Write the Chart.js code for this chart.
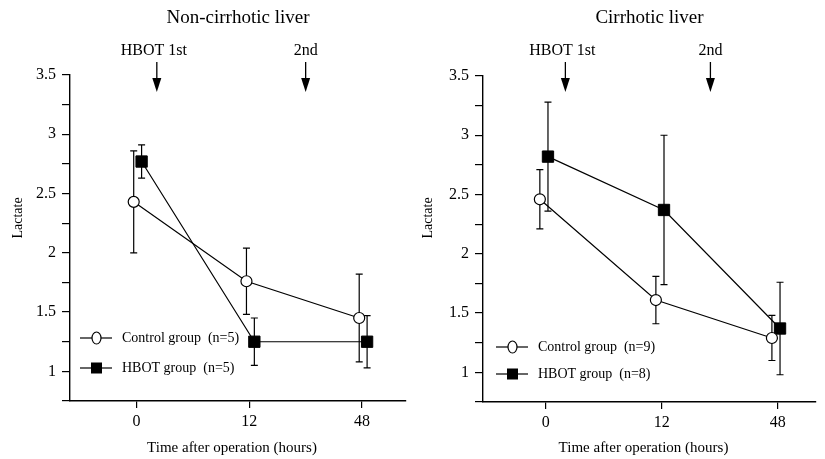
<!DOCTYPE html>
<html>
<head>
<meta charset="utf-8">
<script src="https://cdn.jsdelivr.net/npm/chart.js@4.4.1/dist/chart.umd.min.js"></script>
<style>
  html, body { margin:0; padding:0; background:#fff; }
  #wrap { position:relative; width:825px; height:459px; }
  .panel { position:absolute; top:0; height:459px; }
</style>
</head>
<body>
<div id="wrap">
  <div class="panel" style="left:0;width:415px"><canvas id="c1"></canvas></div>
  <div class="panel" style="left:413px;width:412px"><canvas id="c2"></canvas></div>
</div>
<script>
// ---- data ----
const timeLabels = ['0', '12', '48'];          // hours after operation
const hbotNames  = ['HBOT 1st', '2nd'];
const nonCirHbotTimes = [0.18, 1.5];           // arrow positions (category units)
const cirHbotTimes    = [0.17, 1.42];

const nonCirControl    = [2.43, 1.76, 1.45];
const nonCirControlErr = [0.43, 0.28, 0.37];
const nonCirHbot       = [2.77, 1.25, 1.25];
const nonCirHbotErr    = [0.14, 0.20, 0.22];

const cirControl    = [2.46, 1.61, 1.29];
const cirControlErr = [0.25, 0.20, 0.19];
const cirHbot       = [2.82, 2.37, 1.37];
const cirHbotErr    = [0.46, 0.63, 0.39];

const SERIF = "'Liberation Serif', 'DejaVu Serif', serif";
Chart.defaults.font.family = SERIF;
Chart.defaults.color = '#000';

const pts = (vals, off) => vals.map((v, i) => ({ x: i + off, y: v }));

// ---- error bars, annotations, legend ----
const panelPlugin = {
  id: 'panel',
  beforeDatasetsDraw(chart, args, o) {
    const { ctx, scales: { x, y } } = chart;
    ctx.save();
    ctx.strokeStyle = '#000';
    ctx.lineWidth = 1.2;
    chart.data.datasets.forEach((ds, di) => {
      const errs = o.errors[di];
      ds.data.forEach((p, i) => {
        const px = x.getPixelForValue(p.x);
        const t = y.getPixelForValue(p.y + errs[i]);
        const b = y.getPixelForValue(p.y - errs[i]);
        ctx.beginPath();
        ctx.moveTo(px, t); ctx.lineTo(px, b);
        ctx.moveTo(px - 3.5, t); ctx.lineTo(px + 3.5, t);
        ctx.moveTo(px - 3.5, b); ctx.lineTo(px + 3.5, b);
        ctx.stroke();
      });
    });
    ctx.restore();
  },
  afterDraw(chart, args, o) {
    const { ctx, chartArea: ca, scales: { x } } = chart;
    const cx = (ca.left + ca.right) / 2;
    ctx.save();
    ctx.fillStyle = '#000';
    ctx.strokeStyle = '#000';
    ctx.textAlign = 'center';
    ctx.textBaseline = 'middle';

    ctx.font = '19px ' + SERIF;
    ctx.fillText(o.title, cx, 18);

    // HBOT arrows
    o.arrows.forEach((t, i) => {
      const ax = x.getPixelForValue(t);
      ctx.font = '16px ' + SERIF;
      ctx.fillText(hbotNames[i], ax - (i === 0 ? 3 : 0), 51);
      ctx.lineWidth = 1.3;
      ctx.beginPath(); ctx.moveTo(ax, 62); ctx.lineTo(ax, 80); ctx.stroke();
      ctx.beginPath();
      ctx.moveTo(ax - 4.5, 78); ctx.lineTo(ax + 4.5, 78); ctx.lineTo(ax, 92);
      ctx.closePath(); ctx.fill();
    });

    // axis titles
    ctx.font = '15px ' + SERIF;
    ctx.fillText('Time after operation (hours)', cx - 6, 448);
    ctx.save();
    ctx.translate(o.yTitleX, 218);
    ctx.rotate(-Math.PI / 2);
    ctx.font = '14px ' + SERIF;
    ctx.fillText('Lactate', 0, 0);
    ctx.restore();

    // legend
    ctx.font = '14px ' + SERIF;
    ctx.textAlign = 'left';
    chart.data.datasets.forEach((ds, di) => {
      const ly = o.legendY[di];
      const lx = ca.left + o.legendX;
      ctx.lineWidth = 1.2;
      ctx.beginPath(); ctx.moveTo(lx, ly); ctx.lineTo(lx + 32, ly); ctx.stroke();
      if (ds.pointStyle === 'rect') {
        ctx.fillRect(lx + 11, ly - 5.5, 11, 11);
      } else {
        ctx.beginPath();
        ctx.ellipse(lx + 16.5, ly, 4.5, 6, 0, 0, Math.PI * 2);
        ctx.fillStyle = '#fff'; ctx.fill(); ctx.stroke();
        ctx.fillStyle = '#000';
      }
      ctx.fillText(ds.label, lx + 42, ly);
    });
    ctx.restore();
  }
};

function makePanel(id, cfg) {
  return new Chart(document.getElementById(id), {
    type: 'line',
    data: {
      datasets: [{
        label: cfg.controlLabel,
        data: pts(cfg.control, cfg.controlOff),
        borderColor: '#000', borderWidth: 1.2,
        pointStyle: 'circle', pointRadius: 5.5,
        pointBackgroundColor: '#fff', pointBorderColor: '#000', pointBorderWidth: 1.2
      }, {
        label: cfg.hbotLabel,
        data: pts(cfg.hbot, cfg.hbotOff),
        borderColor: '#000', borderWidth: 1.2,
        pointStyle: 'rect', pointRadius: 8,
        pointBackgroundColor: '#000', pointBorderColor: '#000', pointBorderWidth: 1
      }]
    },
    options: {
      responsive: true,
      maintainAspectRatio: false,
      animation: false,
      layout: { padding: { top: cfg.top, right: cfg.right, left: 0, bottom: 0 } },
      plugins: {
        legend: { display: false },
        tooltip: { enabled: false },
        panel: {
          title: cfg.title,
          arrows: cfg.arrows,
          errors: [cfg.controlErr, cfg.hbotErr],
          legendX: cfg.legendX, legendY: cfg.legendY,
          yTitleX: cfg.yTitleX
        }
      },
      scales: {
        x: {
          type: 'linear',
          min: cfg.xMin, max: cfg.xMax,
          afterBuildTicks: s => { s.ticks = timeLabels.map((_, i) => ({ value: i })); },
          afterFit: s => { s.height = cfg.xHeight; },
          ticks: { callback: v => timeLabels[v], font: { size: 16 }, padding: 4, maxRotation: 0 },
          grid: { drawOnChartArea: false, color: '#000', tickLength: 7, lineWidth: 1.2 },
          border: { color: '#000', width: 1.4 }
        },
        y: {
          min: 0.75, max: 3.5,
          afterFit: s => { s.width = 70; },
          ticks: {
            stepSize: 0.25,
            font: { size: 16 },
            padding: 6,
            callback: v => (Math.abs(v * 2 - Math.round(v * 2)) < 1e-6 && v >= 1) ? String(v) : ''
          },
          grid: { drawOnChartArea: false, color: '#000', tickLength: 8, lineWidth: 1.2 },
          border: { color: '#000', width: 1.4 }
        }
      }
    },
    plugins: [panelPlugin]
  });
}

makePanel('c1', {
  title: 'Non-cirrhotic liver', arrows: nonCirHbotTimes,
  control: nonCirControl, controlErr: nonCirControlErr, controlOff: -0.025,
  hbot: nonCirHbot, hbotErr: nonCirHbotErr, hbotOff: 0.045,
  controlLabel: 'Control group  (n=5)', hbotLabel: 'HBOT group  (n=5)',
  xMin: -0.59, xMax: 2.39, top: 75, right: 7, xHeight: 58,
  legendX: 10, legendY: [338, 368], yTitleX: 18
});

makePanel('c2', {
  title: 'Cirrhotic liver', arrows: cirHbotTimes,
  control: cirControl, controlErr: cirControlErr, controlOff: -0.05,
  hbot: cirHbot, hbotErr: cirHbotErr, hbotOff: 0.02,
  controlLabel: 'Control group  (n=9)', hbotLabel: 'HBOT group  (n=8)',
  xMin: -0.54, xMax: 2.33, top: 76, right: 3, xHeight: 57,
  legendX: 13, legendY: [347, 374], yTitleX: 15
});
</script>
</body>
</html>
